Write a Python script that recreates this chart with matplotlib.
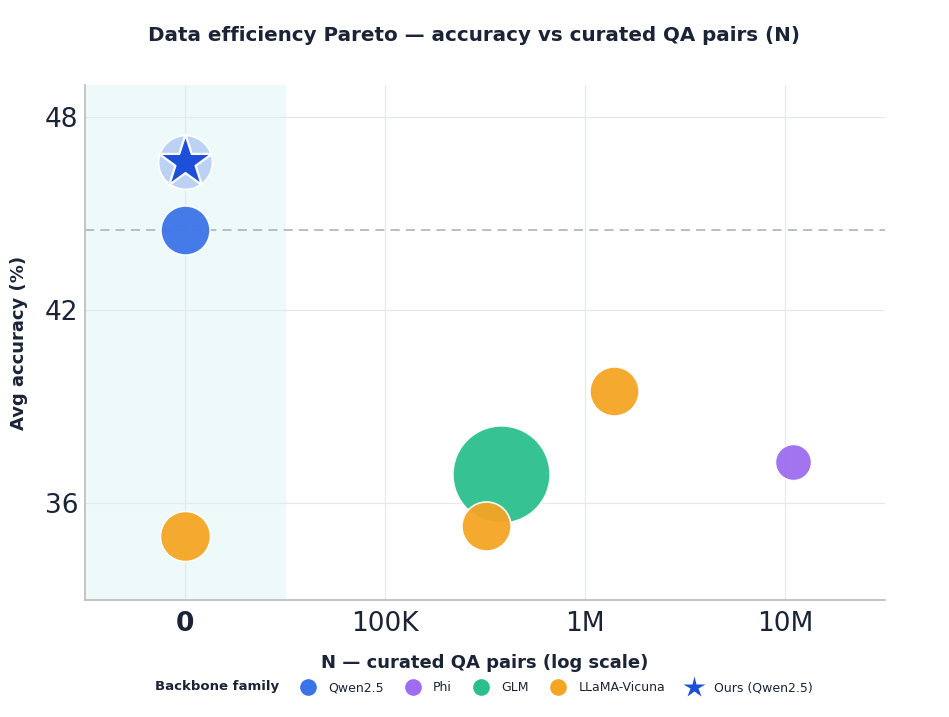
import numpy as np
import matplotlib.pyplot as plt
from matplotlib.lines import Line2D

# data
families = ['Qwen2.5', 'Phi', 'GLM', 'LLaMA-Vicuna']
fam_colors = {'Qwen2.5': '#3b74e8', 'Phi': '#9d6cf0', 'GLM': '#2bbf8d', 'LLaMA-Vicuna': '#f5a524'}

# N = 0 is drawn at the 10K slot of the log axis
pt_family = ['Qwen2.5', 'LLaMA-Vicuna', 'GLM', 'LLaMA-Vicuna', 'LLaMA-Vicuna', 'Phi']
pt_n = [0, 0, 380000, 320000, 1400000, 11000000]
pt_acc = [44.5, 35.0, 36.9, 35.3, 39.5, 37.3]
pt_size = [1250, 1300, 4900, 1250, 1250, 680]

ours_n = 0
ours_acc = 46.6
baseline_acc = 44.5

xticks = [1e4, 1e5, 1e6, 1e7]
xticklabels = ['0', '100K', '1M', '10M']
yticks = [36, 42, 48]

ZERO_POS = 1e4


def xpos(n):
    return ZERO_POS if n == 0 else n


ink = '#1b2436'

fig = plt.figure(figsize=(9.49, 7.17), dpi=100)
ax = fig.add_axes([0.0896, 0.1632, 0.843, 0.7183])

ax.set_xscale('log')
ax.set_xlim(10 ** 3.5, 10 ** 7.5)
ax.set_ylim(33, 49)

ax.axvspan(10 ** 3.5, 10 ** 4.5, color='#eefafa', zorder=0)
ax.axhline(baseline_acc, color='#a8adb3', ls=(0, (6, 4)), lw=1.1, zorder=1)

for f, n, a, s in zip(pt_family, pt_n, pt_acc, pt_size):
    ax.scatter(xpos(n), a, s=s, color=fam_colors[f], alpha=0.95,
               edgecolor='white', linewidth=1.2, zorder=3)

# ours: halo + star
ax.scatter(xpos(ours_n), ours_acc, s=1500, color='#bcd2f5', edgecolor='white',
           linewidth=1.2, zorder=4)
ax.scatter(xpos(ours_n), ours_acc, s=1600, marker='*', color='#1e4fd8',
           edgecolor='white', linewidth=1.6, zorder=5)

ax.set_xticks(xticks)
ax.set_xticklabels(xticklabels)
ax.xaxis.set_minor_locator(plt.NullLocator())
ax.set_yticks(yticks)
ax.tick_params(axis='both', labelsize=19, colors=ink, length=0)
ax.tick_params(axis='y', pad=5)
ax.tick_params(axis='x', pad=8)
ax.get_xticklabels()[0].set_fontweight('bold')

ax.grid(True, color='#e6e8eb', lw=0.9, zorder=0)
ax.set_axisbelow(True)
for side in ['top', 'right']:
    ax.spines[side].set_visible(False)
for side in ['left', 'bottom']:
    ax.spines[side].set_color('#b8bcc2')
    ax.spines[side].set_linewidth(1.2)

ax.set_xlabel('N — curated QA pairs (log scale)', fontsize=13, fontweight='bold',
              color=ink, labelpad=12)
ax.set_ylabel('Avg accuracy (%)', fontsize=13, fontweight='bold', color=ink, labelpad=12)

fig.text(0.5, 0.95, 'Data efficiency Pareto — accuracy vs curated QA pairs (N)',
         ha='center', va='center', fontsize=14.3, fontweight='bold', color=ink)

handles = [Line2D([], [], marker='o', ls='', markersize=12, markerfacecolor=fam_colors[f],
                  markeredgecolor='none', label=f) for f in families]
handles.append(Line2D([], [], marker='*', ls='', markersize=16, markerfacecolor='#1e4fd8',
                      markeredgecolor='none', label='Ours (Qwen2.5)'))
fig.text(0.229, 0.043, 'Backbone family', ha='center', va='center', fontsize=9.5,
         fontweight='bold', color=ink)
fig.legend(handles=handles, loc='center left', bbox_to_anchor=(0.305, 0.041), ncol=5,
           frameon=False, fontsize=9, handletextpad=1.0, columnspacing=1.75,
           handlelength=1.2, labelcolor=ink)

fig.savefig('out.png', dpi=100)
